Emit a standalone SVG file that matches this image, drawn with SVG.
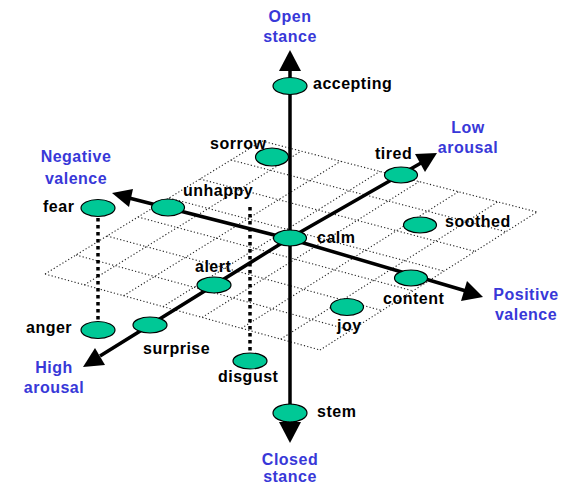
<svg xmlns="http://www.w3.org/2000/svg" width="568" height="486" viewBox="0 0 568 486">
<defs>
<style>
.grid line{stroke:#222;stroke-width:1.1;stroke-dasharray:1.2 2.2;fill:none}
.axis{stroke:#000;stroke-width:3.5;fill:none;stroke-linecap:butt}
.head{fill:#000;stroke:none}
.drop{stroke:#000;stroke-width:3.5;stroke-dasharray:3.5 3.5;fill:none}
.node ellipse{fill:#00C896;stroke:#000;stroke-width:1.2}
text{font-family:"Liberation Sans",Arial,sans-serif;font-weight:bold;font-size:16px;letter-spacing:0.5px}
.lbl{fill:#000}
.ax{fill:#3838D8;text-anchor:middle}
</style>
</defs>
<rect width="568" height="486" fill="#fff"/>
<g id="grid" class="grid">
<line x1="45" y1="274" x2="320" y2="350"/>
<line x1="76" y1="255" x2="351" y2="330.3"/>
<line x1="107" y1="236" x2="382" y2="310.6"/>
<line x1="138" y1="217" x2="413" y2="290.9"/>
<line x1="169" y1="198" x2="444" y2="271.1"/>
<line x1="200" y1="179" x2="475" y2="251.4"/>
<line x1="231" y1="160" x2="506" y2="231.7"/>
<line x1="262" y1="141" x2="537" y2="212"/>
<line x1="45" y1="274" x2="262" y2="141"/>
<line x1="84.3" y1="284.9" x2="301.3" y2="151.1"/>
<line x1="123.6" y1="295.7" x2="340.6" y2="161.3"/>
<line x1="162.9" y1="306.6" x2="379.9" y2="171.4"/>
<line x1="202.1" y1="317.4" x2="419.1" y2="181.6"/>
<line x1="241.4" y1="328.3" x2="458.4" y2="191.7"/>
<line x1="280.7" y1="339.1" x2="497.7" y2="201.9"/>
<line x1="320" y1="350" x2="537" y2="212"/>
</g>
<g id="connectors">
<line class="axis" x1="290" y1="68" x2="290" y2="424"/>
<polygon class="head" points="290,50 279,71 301,71"/>
<polygon class="head" points="290,443 279,422 301,422"/>
<polyline class="axis" points="129,198 290,239 466,291"/>
<polygon class="head" points="112,193 133,189 129,207"/>
<polygon class="head" points="483,297 467,281 461,301"/>
<polyline class="axis" points="100,356 290,238 421,163"/>
<polygon class="head" points="83,367 95,348 105,365"/>
<polygon class="head" points="437,153 415,154 425,172"/>
<line class="drop" x1="98" y1="218" x2="98" y2="322"/>
<line class="drop" x1="250" y1="207" x2="250" y2="353"/>
</g>
<g id="node-accepting" class="node"><ellipse cx="290" cy="86" rx="17" ry="8.5"/><text class="lbl" x="313" y="89">accepting</text></g>
<g id="node-sorrow" class="node"><ellipse cx="272" cy="157" rx="16.5" ry="9"/><text class="lbl" x="210" y="149">sorrow</text></g>
<g id="node-tired" class="node"><ellipse cx="401" cy="175" rx="16.5" ry="8"/><text class="lbl" x="375" y="159">tired</text></g>
<g id="node-unhappy" class="node"><ellipse cx="168" cy="207.5" rx="16.5" ry="8.5"/><text class="lbl" x="183" y="196">unhappy</text></g>
<g id="node-fear" class="node"><ellipse cx="98" cy="208" rx="17" ry="8.5"/><text class="lbl" x="43" y="212">fear</text></g>
<g id="node-calm" class="node"><ellipse cx="290" cy="238" rx="16.5" ry="8"/><text class="lbl" x="317" y="243">calm</text></g>
<g id="node-soothed" class="node"><ellipse cx="420" cy="225" rx="16.5" ry="8"/><text class="lbl" x="445" y="227">soothed</text></g>
<g id="node-alert" class="node"><ellipse cx="214" cy="285" rx="17" ry="8"/><text class="lbl" x="195" y="272">alert</text></g>
<g id="node-content" class="node"><ellipse cx="411" cy="278" rx="16.5" ry="8"/><text class="lbl" x="383" y="304">content</text></g>
<g id="node-joy" class="node"><ellipse cx="347" cy="307" rx="16.5" ry="8.5"/><text class="lbl" x="337" y="331">joy</text></g>
<g id="node-anger" class="node"><ellipse cx="98" cy="330" rx="17" ry="8.5"/><text class="lbl" x="26" y="333">anger</text></g>
<g id="node-surprise" class="node"><ellipse cx="150" cy="325" rx="17" ry="8"/><text class="lbl" x="143" y="354">surprise</text></g>
<g id="node-disgust" class="node"><ellipse cx="250" cy="361" rx="17" ry="8"/><text class="lbl" x="218" y="382">disgust</text></g>
<g id="node-stem" class="node"><ellipse cx="290" cy="413" rx="17" ry="9"/><text class="lbl" x="317" y="417">stem</text></g>
<g id="label-open"><text class="ax" x="290" y="22">Open</text><text class="ax" x="290" y="42">stance</text></g>
<g id="label-closed"><text class="ax" x="290" y="465">Closed</text><text class="ax" x="290" y="482">stance</text></g>
<g id="label-low"><text class="ax" x="468" y="133">Low</text><text class="ax" x="468" y="153">arousal</text></g>
<g id="label-high"><text class="ax" x="54" y="373">High</text><text class="ax" x="54" y="393">arousal</text></g>
<g id="label-negative"><text class="ax" x="76" y="162">Negative</text><text class="ax" x="76" y="184">valence</text></g>
<g id="label-positive"><text class="ax" x="526" y="300">Positive</text><text class="ax" x="526" y="320">valence</text></g>
</svg>
